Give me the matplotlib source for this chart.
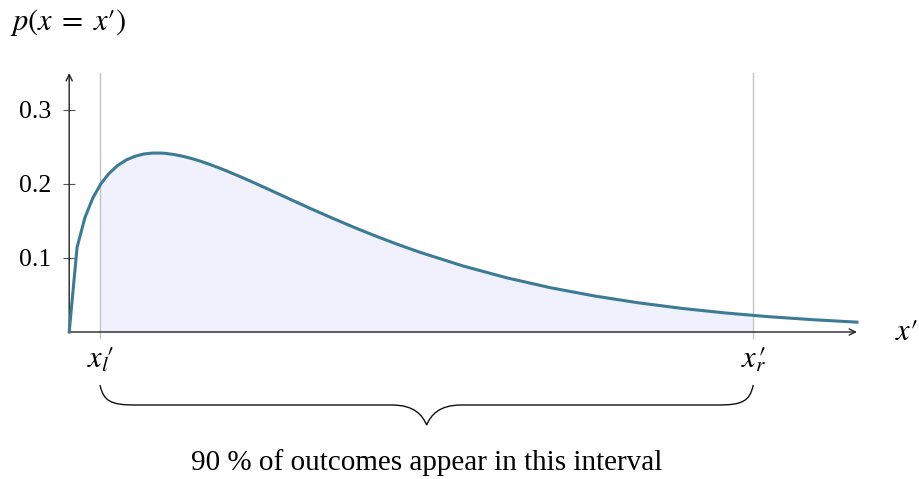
import matplotlib.pyplot as plt
from matplotlib.path import Path
from matplotlib.patches import PathPatch
from matplotlib.transforms import blended_transform_factory

plt.rcParams['font.family'] = ['Liberation Serif', 'DejaVu Serif']
plt.rcParams['mathtext.fontset'] = 'stix'

# density of the outcome, sampled along x'
xs = [0.0, 0.09, 0.18, 0.27, 0.36, 0.45, 0.55, 0.65, 0.75, 0.85, 0.95,
      1.05, 1.1, 1.2, 1.3, 1.4, 1.5, 1.6, 1.7, 1.8, 1.9, 2.0, 2.25, 2.5,
      2.75, 3.0, 3.25, 3.5, 3.75, 4.0, 4.5, 5.0, 5.5, 6.0, 6.5, 7.0,
      7.5, 8.0, 8.5, 9.0]
density = [0.0, 0.1144, 0.1547, 0.1811, 0.1999, 0.2137, 0.2247, 0.2324,
           0.2374, 0.2405, 0.2418, 0.2418, 0.2414, 0.2398, 0.2374, 0.2344,
           0.2308, 0.2267, 0.2223, 0.2176, 0.2126, 0.2076, 0.1943, 0.1807,
           0.1672, 0.1542, 0.1416, 0.1297, 0.1185, 0.1080, 0.0892, 0.0732,
           0.0598, 0.0487, 0.0395, 0.0319, 0.0257, 0.0206, 0.0166, 0.0133]

# interval bounds (5 % and 95 % points)
x_left = 0.352
x_right = 7.815
interval_labels = [r"$x_{l}\!\prime$", r"$x_{r}\!\!\prime$"]
y_ticks = [0.1, 0.2, 0.3]

W, H = 920, 479
fig = plt.figure(figsize=(W / 100, H / 100), dpi=100)
ax = fig.add_axes([69.2 / W, (H - 332) / H, (857 - 69.2) / W, (332 - 73) / H])
ax.set_xlim(0, 9)
ax.set_ylim(0, 0.35)
for s in ax.spines.values():
    s.set_visible(False)


def at(xq):
    # linear interpolation between neighbouring samples
    for i in range(len(xs) - 1):
        if xs[i] <= xq <= xs[i + 1]:
            t = (xq - xs[i]) / (xs[i + 1] - xs[i])
            return density[i] + t * (density[i + 1] - density[i])
    return 0.0


# shaded interval under the curve
fx = [x_left] + [x for x in xs if x_left < x < x_right] + [x_right]
fy = [at(x) for x in fx]
ax.fill_between(fx, 0, fy, color='#f1f1fd', lw=0, zorder=1)

# grid lines at the interval bounds
for xv in (x_left, x_right):
    ax.plot([xv, xv], [-0.008, 0.35], color='#c4c4c4', lw=1.0,
            clip_on=False, zorder=2)

ax.plot(xs, density, color='#3b7b95', lw=2.2, zorder=4, clip_on=False,
        solid_joinstyle='round')

# axis lines with arrow heads
for tip in [(9, 0), (0, 0.35)]:
    ax.annotate('', xy=tip, xytext=(0, 0),
                arrowprops=dict(arrowstyle='->,head_length=0.45,head_width=0.22',
                                color='#222', lw=1.0, shrinkA=0, shrinkB=0),
                annotation_clip=False, zorder=3)

ax.set_yticks(y_ticks)
ax.set_yticklabels([f"{v:.1f}" for v in y_ticks])
ax.set_xticks([x_left, x_right])
ax.set_xticklabels(interval_labels)
ax.tick_params(axis='y', direction='inout', length=8, width=0.8,
               color='#555', labelsize=18.5, pad=9)
ax.tick_params(axis='x', length=0, labelsize=22, pad=10)

fig.text(10 / W, 1 - 22 / H, r"$p(x\;=\;x\prime)$", fontsize=22,
         ha='left', va='center')
fig.text(895 / W, 1 - 333 / H, r"$x\prime$", fontsize=22,
         ha='left', va='center')

# curly brace under the interval
tr = blended_transform_factory(ax.transData, fig.dpi_scale_trans)
mid = (x_left + x_right) / 2
px = 87.6  # pixels per data unit
y_top, y_bar, y_tip = (H - 385) / 100, (H - 405) / 100, (H - 425) / 100
k = 35 / px
verts = [
    (x_left, y_top),
    (x_left + 0.04, y_bar + 0.04), (x_left + 0.3 * k, y_bar), (x_left + k, y_bar),
    (mid - k, y_bar),
    (mid - 0.35 * k, y_bar), (mid - 0.05, y_tip + 0.1), (mid, y_tip),
    (mid + 0.05, y_tip + 0.1), (mid + 0.35 * k, y_bar), (mid + k, y_bar),
    (x_right - k, y_bar),
    (x_right - 0.3 * k, y_bar), (x_right - 0.04, y_bar + 0.04), (x_right, y_top),
]
codes = [Path.MOVETO, Path.CURVE4, Path.CURVE4, Path.CURVE4, Path.LINETO,
         Path.CURVE4, Path.CURVE4, Path.CURVE4, Path.CURVE4, Path.CURVE4,
         Path.CURVE4, Path.LINETO, Path.CURVE4, Path.CURVE4, Path.CURVE4]
brace = PathPatch(Path(verts, codes), transform=tr, fill=False,
                  edgecolor='#111', lw=1.0, clip_on=False)
ax.add_patch(brace)

ax.text(mid, (H - 463) / 100, "90 % of outcomes appear in this interval",
        transform=tr, ha='center', va='center', fontsize=21)

fig.savefig('out.png', dpi=100)
